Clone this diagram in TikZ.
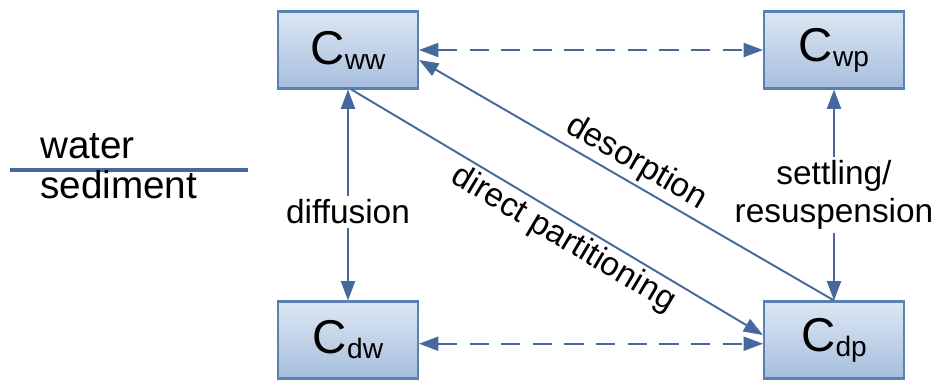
\documentclass[tikz,border=0pt]{standalone}
\usepackage{fontspec}
\setmainfont{Liberation Sans}
\usetikzlibrary{arrows.meta}
\usepackage{xcolor}
\definecolor{boxtop}{HTML}{DDE7F3}
\definecolor{boxbot}{HTML}{A6BEDD}
\definecolor{boxline}{HTML}{5B80B4}
\definecolor{arrline}{HTML}{45699E}
\newcommand{\conc}[1]{C\raisebox{-0.2ex}{\fontsize{16}{16}\selectfont #1}}

\begin{document}
\begin{tikzpicture}[x=0.02cm,y=0.02cm,
  pool/.style={rectangle, draw=boxline, line width=1.2pt, top color=boxtop, bottom color=boxbot,
    minimum width=2.8cm, minimum height=1.54cm, font=\fontsize{27}{27}\selectfont},
  flow/.style={arrline, line width=1.1pt, >={Triangle[length=11pt,width=8pt]}},
  lbl/.style={text=black, font=\fontsize{19}{22}\selectfont, inner sep=2pt}]
\useasboundingbox (0,0) rectangle (933,-383);
\node[pool] (ww) at (348,-50) {\conc{ww}};
\node[pool] (wp) at (834,-50) {\conc{wp}};
\node[pool] (dw) at (348,-340) {\conc{dw}};
\node[pool] (dp) at (834,-340) {\conc{dp}};
% water / sediment boundary
\draw[arrline, line width=1.8pt] (10,-170) -- (248,-170);
\node[lbl, font=\fontsize{22}{22}\selectfont, anchor=base west, inner sep=0] (water) at (40,-158) {water};
\node[lbl, font=\fontsize{22}{22}\selectfont, anchor=base west, inner sep=0] (sediment) at (40,-198) {sediment};
% exchanges
\draw[flow, <->, dash pattern=on 11pt off 7pt] (ww.east) -- (wp.west);
\draw[flow, <->, dash pattern=on 11pt off 7pt] (dw.-3) -- (dp.-177);
\draw[flow, <->] (ww.south) -- node[lbl, fill=white, pos=0.58] {diffusion} (dw.north);
\draw[flow, <->] (wp.south) -- node[lbl, fill=white, align=center] {settling/\\resuspension} (dp.north);
\draw[flow, ->] (dp.north) -- node[lbl, sloped, above, midway] {desorption} (ww.-8);
\draw[flow, ->] (ww.-85) -- node[lbl, sloped, below, pos=0.54] {direct partitioning} (dp.176);
\end{tikzpicture}
\end{document}
